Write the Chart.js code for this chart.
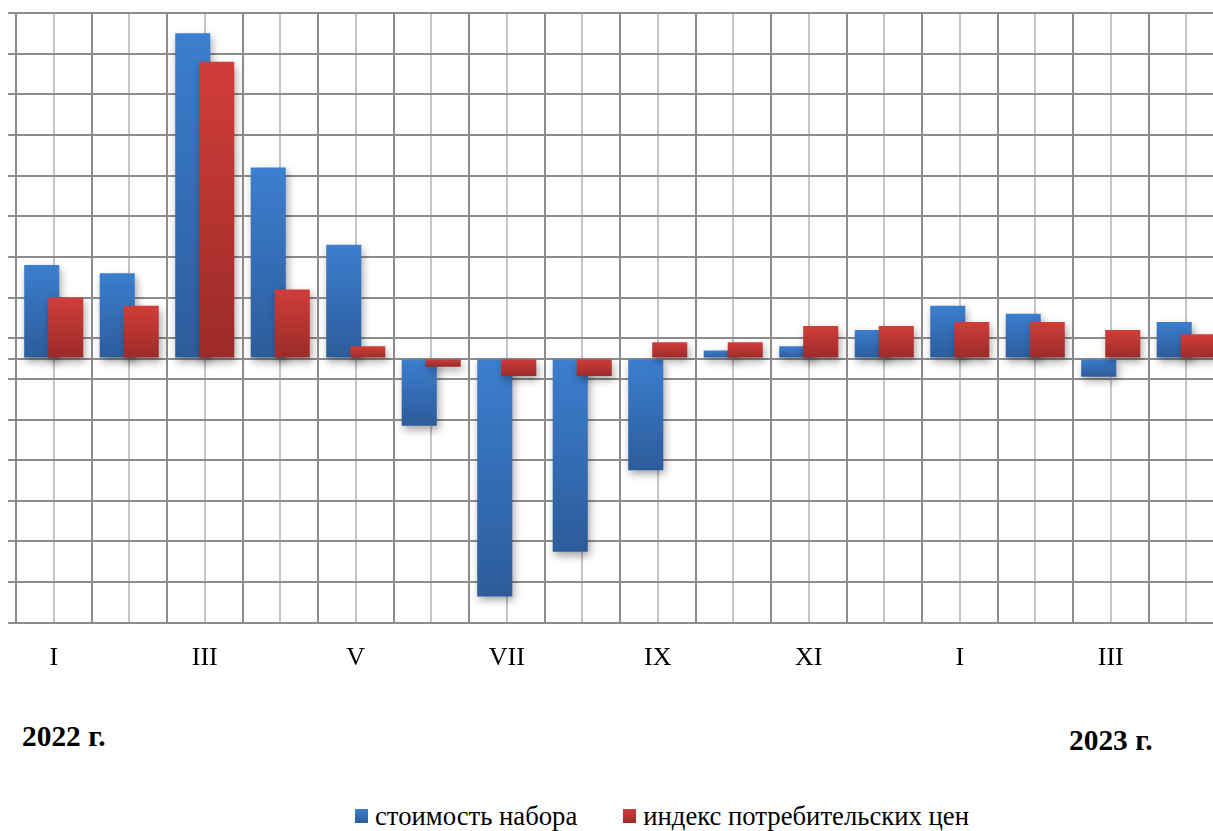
<!DOCTYPE html>
<html lang="ru">
<head>
<meta charset="utf-8">
<title>Стоимость набора и индекс потребительских цен</title>
<script src="https://cdn.jsdelivr.net/npm/chart.js@4.4.1/dist/chart.umd.min.js"></script>
<style>
    html, body { margin: 0; padding: 0; background: #fff; overflow: hidden; }
    body { width: 1213px; height: 831px; position: relative; font-family: "Liberation Serif", "Times New Roman", serif; }
    #grafico-box { position: absolute; left: 0; top: 0; width: 1232px; height: 700px; }
    .ano { position: absolute; font-weight: bold; font-size: 29.4px; line-height: 29px; color: #000; }
    #legenda { position: absolute; left: 355px; top: 803px; display: flex; align-items: center; font-size: 26.7px; line-height: 26px; color: #000; white-space: nowrap; }
    #legenda .item { display: flex; align-items: center; margin-right: 46px; }
    #legenda .caixa { width: 13px; height: 14px; margin-right: 7px; }
</style>
</head>
<body>
<div id="grafico-box"><canvas id="chart1"></canvas></div>
<div class="ano" style="left: 22px; top: 722px;">2022 г.</div>
<div class="ano" style="left: 1069px; top: 726px;">2023 г.</div>
<div id="legenda"></div>

<script>
// месяцы: 2022 г. I-XII, 2023 г. I-IV
var meses = ['I', 'II', 'III', 'IV', 'V', 'VI', 'VII', 'VIII', 'IX', 'X', 'XI', 'XII', 'I', 'II', 'III', 'IV'];

var custoConjunto = [2.3, 2.1, 8.0, 4.7, 2.8, -1.65, -5.85, -4.75, -2.75, 0.2, 0.3, 0.7, 1.3, 1.1, -0.45, 0.9];
var indicePrecos = [1.5, 1.3, 7.3, 1.7, 0.3, -0.2, -0.43, -0.43, 0.4, 0.4, 0.8, 0.8, 0.9, 0.9, 0.7, 0.6];

var yTicks = [-6.5, -5.5, -4.5, -3.5, -2.5, -1.5, -0.5, 0, 0.5, 1.5, 2.5, 3.5, 4.5, 5.5, 6.5, 7.5, 8.5];

var corAzul = ['#3c7ecf', '#2c5c9b'];
var corVermelha = ['#d13d39', '#9b2b29'];

function gradienteBarra(cores) {
    return function (context) {
        var chart = context.chart;
        var y = chart.scales.y;
        if (context.type !== 'data' || !y) {
            return cores[0];
        }
        var v = context.parsed.y;
        var y0 = y.getPixelForValue(Math.max(v, 0));
        var y1 = y.getPixelForValue(Math.min(v, 0));
        if (!isFinite(y0) || !isFinite(y1) || y0 === y1) {
            return cores[0];
        }
        var g = chart.ctx.createLinearGradient(0, y0, 0, y1);
        g.addColorStop(0, cores[0]);
        g.addColorStop(1, cores[1]);
        return g;
    };
}

// синие столбцы рисуем первыми, красные поверх, с тенью
var sombraBarras = {
    id: 'sombraBarras',
    beforeDatasetsDraw: function (chart) {
        var ctx = chart.ctx;
        ctx.save();
        ctx.shadowColor = 'rgba(0, 0, 0, 0.35)';
        ctx.shadowBlur = 8;
        ctx.shadowOffsetX = 2;
        ctx.shadowOffsetY = 4;
        chart.getDatasetMeta(0).controller.draw();
        chart.getDatasetMeta(1).controller.draw();
        ctx.restore();
        return false;
    }
};

var ctx1 = document.getElementById('chart1').getContext('2d');
var chart1 = new Chart(ctx1, {
    type: 'bar',
    data: {
        labels: meses,
        datasets: [{
            label: 'стоимость набора',
            data: custoConjunto,
            xAxisID: 'x',
            backgroundColor: gradienteBarra(corAzul),
            borderWidth: 0,
            categoryPercentage: 0.636,
            barPercentage: 1.46
        }, {
            label: 'индекс потребительских цен',
            data: indicePrecos,
            xAxisID: 'x',
            backgroundColor: gradienteBarra(corVermelha),
            borderWidth: 0,
            categoryPercentage: 0.636,
            barPercentage: 1.46
        }]
    },
    options: {
        responsive: true,
        maintainAspectRatio: false,
        animation: false,
        layout: {
            padding: { left: 8, right: 8, top: 13, bottom: 6 }
        },
        plugins: {
            legend: { display: false },
            tooltip: { enabled: false }
        },
        scales: {
            x: {
                type: 'category',
                position: 'bottom',
                offset: true,
                grid: { offset: true, color: '#8c8c8c', lineWidth: 2, drawTicks: false },
                border: { display: false },
                ticks: {
                    autoSkip: false,
                    maxRotation: 0,
                    padding: 20,
                    color: '#000',
                    font: { family: 'Liberation Serif', size: 26 },
                    callback: function (value, index) {
                        return index % 2 === 0 ? this.getLabelForValue(value) : '';
                    }
                }
            },
            x2: {
                type: 'category',
                position: 'bottom',
                offset: true,
                grid: { offset: false, color: '#c6c6c6', lineWidth: 2, drawTicks: false },
                border: { display: false },
                ticks: { display: false }
            },
            y: {
                min: -6.5,
                max: 8.5,
                afterBuildTicks: function (scale) {
                    scale.ticks = yTicks.map(function (v) { return { value: v }; });
                },
                grid: { color: '#8c8c8c', lineWidth: 2, tickLength: 8 },
                border: { display: true, color: '#8c8c8c', width: 2 },
                ticks: { display: false }
            }
        }
    },
    plugins: [sombraBarras]
});

// легенда
var legenda = document.getElementById('legenda');
[corAzul, corVermelha].forEach(function (cores, i) {
    var item = document.createElement('div');
    item.className = 'item';
    var caixa = document.createElement('span');
    caixa.className = 'caixa';
    caixa.style.background = 'linear-gradient(' + cores[0] + ', ' + cores[1] + ')';
    var texto = document.createElement('span');
    texto.textContent = chart1.data.datasets[i].label;
    item.appendChild(caixa);
    item.appendChild(texto);
    legenda.appendChild(item);
});
</script>
</body>
</html>
